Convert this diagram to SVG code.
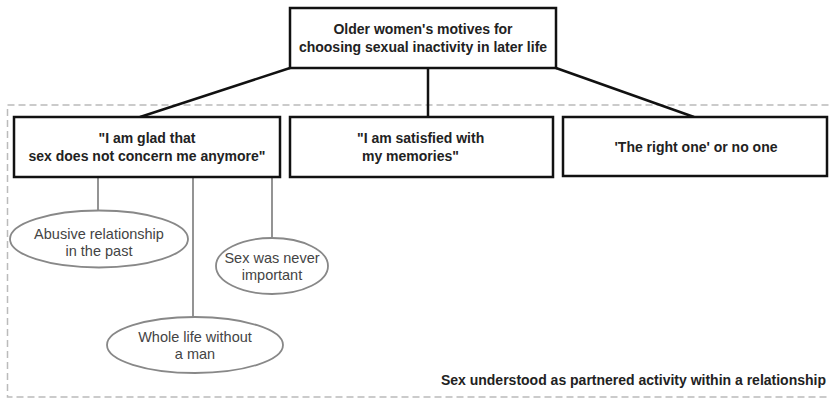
<svg xmlns="http://www.w3.org/2000/svg" width="829" height="399" viewBox="0 0 829 399">
<style>
.box{fill:#fff;stroke:#111;stroke-width:2.5}
.ell{fill:#fff;stroke:#888;stroke-width:1.8}
.bt{font-family:"Liberation Sans",Arial,sans-serif;font-weight:bold;font-size:14px;fill:#222}
.et{font-family:"Liberation Sans",Arial,sans-serif;font-size:14.5px;fill:#444;text-anchor:middle}
.main{stroke:#111;stroke-width:2.5;fill:none}
.sub{stroke:#888;stroke-width:1.8;fill:none}
</style>
<rect x="7.5" y="105" width="830" height="292" fill="none" stroke="#bbb" stroke-width="1.5" stroke-dasharray="7,4"/>
<g id="connectors">
<line class="main" x1="290" y1="68" x2="140" y2="117"/>
<line class="main" x1="428" y1="68" x2="428" y2="117"/>
<line class="main" x1="556" y1="68" x2="694" y2="117"/>
<line class="sub" x1="98" y1="177" x2="98" y2="211"/>
<line class="sub" x1="193" y1="177" x2="193" y2="317"/>
<line class="sub" x1="272" y1="177" x2="272" y2="238"/>
</g>
<g id="root">
<rect class="box" x="290" y="8" width="266" height="60"/>
<text class="bt" x="423" y="34" text-anchor="middle" font-size="13.5">Older women's motives for</text>
<text class="bt" x="423" y="52" text-anchor="middle" font-size="13.5">choosing sexual inactivity in later life</text>
</g>
<g id="glad">
<rect class="box" x="14" y="117" width="266" height="60"/>
<text class="bt" x="147" y="143" text-anchor="middle">"I am glad that</text>
<text class="bt" x="147" y="161" text-anchor="middle">sex does not concern me anymore"</text>
</g>
<g id="memories">
<rect class="box" x="290" y="117" width="263" height="60"/>
<text class="bt" x="357" y="143">"I am satisfied with</text>
<text class="bt" x="362" y="161">my memories"</text>
</g>
<g id="rightone">
<rect class="box" x="563" y="117" width="264" height="59"/>
<text class="bt" x="696" y="152" text-anchor="middle">'The right one' or no one</text>
</g>
<g id="abusive">
<ellipse class="ell" cx="99" cy="239" rx="89" ry="28.5"/>
<text class="et" x="99" y="239">Abusive relationship</text>
<text class="et" x="99" y="256">in the past</text>
</g>
<g id="never">
<ellipse class="ell" cx="272" cy="266" rx="56" ry="28"/>
<text class="et" x="272" y="263">Sex was never</text>
<text class="et" x="272" y="280">important</text>
</g>
<g id="wholelife">
<ellipse class="ell" cx="195" cy="345" rx="88" ry="28"/>
<text class="et" x="195" y="342">Whole life without</text>
<text class="et" x="195" y="359">a man</text>
</g>
<g id="note">
<text class="bt" x="826" y="385" text-anchor="end" font-size="14.5">Sex understood as partnered activity within a relationship</text>
</g>
</svg>
